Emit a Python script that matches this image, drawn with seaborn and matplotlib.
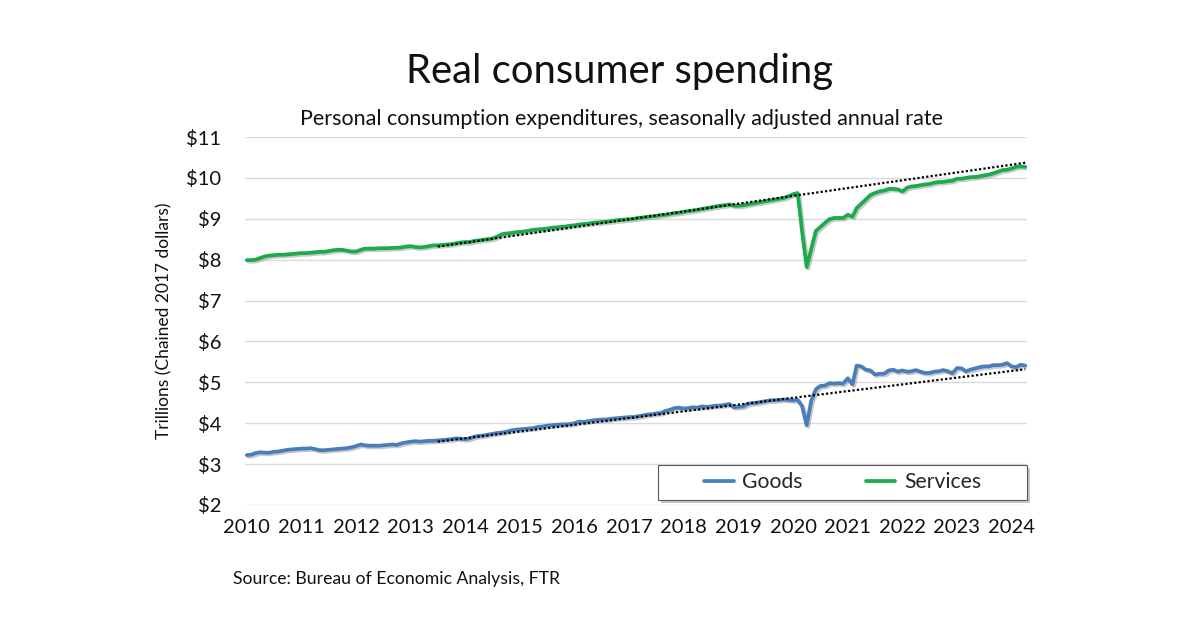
import matplotlib
matplotlib.use("Agg")
import matplotlib.pyplot as plt
import matplotlib.patheffects as pe
from matplotlib.patches import Rectangle
from matplotlib.lines import Line2D
import numpy as np
import pandas as pd
import seaborn as sns

# ---------------- data (trillions, chained 2017 dollars, monthly from Jan 2010) -------------
goods = [
    3.22, 3.23, 3.27, 3.29, 3.28, 3.28, 3.30, 3.31, 3.33, 3.35, 3.36, 3.37,  # 2010
    3.38, 3.38, 3.39, 3.37, 3.34, 3.34, 3.35, 3.36, 3.37, 3.38, 3.39, 3.41,  # 2011
    3.44, 3.48, 3.46, 3.45, 3.45, 3.45, 3.46, 3.47, 3.48, 3.47, 3.51, 3.53,  # 2012
    3.55, 3.56, 3.55, 3.56, 3.57, 3.57, 3.58, 3.59, 3.60, 3.61, 3.63, 3.62,  # 2013
    3.61, 3.63, 3.67, 3.69, 3.70, 3.72, 3.74, 3.76, 3.77, 3.79, 3.82, 3.84,  # 2014
    3.85, 3.86, 3.87, 3.88, 3.91, 3.92, 3.94, 3.95, 3.96, 3.97, 3.97, 3.98,  # 2015
    4.00, 4.04, 4.03, 4.05, 4.07, 4.08, 4.09, 4.09, 4.11, 4.12, 4.13, 4.14,  # 2016
    4.15, 4.15, 4.17, 4.19, 4.21, 4.22, 4.24, 4.25, 4.30, 4.33, 4.37, 4.38,  # 2017
    4.36, 4.37, 4.39, 4.38, 4.41, 4.40, 4.41, 4.43, 4.43, 4.45, 4.47, 4.39,  # 2018
    4.40, 4.41, 4.47, 4.49, 4.50, 4.52, 4.54, 4.56, 4.56, 4.57, 4.58, 4.57,  # 2019
    4.56, 4.57, 4.42, 3.95, 4.54, 4.83, 4.91, 4.92, 4.98, 4.97, 4.98, 4.97,  # 2020
    5.10, 4.95, 5.41, 5.39, 5.31, 5.29, 5.19, 5.21, 5.21, 5.29, 5.31, 5.26,  # 2021
    5.29, 5.26, 5.27, 5.30, 5.26, 5.23, 5.23, 5.26, 5.27, 5.30, 5.27, 5.22,  # 2022
    5.35, 5.34, 5.27, 5.31, 5.34, 5.37, 5.39, 5.39, 5.42, 5.42, 5.43, 5.47,  # 2023
    5.39, 5.37, 5.43, 5.41,                                                  # 2024
]

services = [
    7.99, 7.99, 8.00, 8.04, 8.08, 8.10, 8.11, 8.12, 8.12, 8.13, 8.14, 8.15,  # 2010
    8.16, 8.16, 8.17, 8.18, 8.19, 8.19, 8.21, 8.23, 8.24, 8.24, 8.22, 8.20,  # 2011
    8.20, 8.24, 8.27, 8.27, 8.27, 8.28, 8.28, 8.28, 8.29, 8.29, 8.30, 8.32,  # 2012
    8.33, 8.31, 8.30, 8.31, 8.33, 8.35, 8.35, 8.36, 8.37, 8.38, 8.40, 8.42,  # 2013
    8.43, 8.43, 8.46, 8.47, 8.49, 8.50, 8.52, 8.56, 8.62, 8.64, 8.65, 8.67,  # 2014
    8.68, 8.69, 8.71, 8.73, 8.74, 8.75, 8.76, 8.78, 8.79, 8.80, 8.81, 8.83,  # 2015
    8.84, 8.86, 8.87, 8.88, 8.90, 8.91, 8.92, 8.93, 8.94, 8.96, 8.97, 8.98,  # 2016
    8.99, 9.00, 9.02, 9.03, 9.05, 9.06, 9.07, 9.09, 9.10, 9.12, 9.14, 9.15,  # 2017
    9.17, 9.19, 9.20, 9.22, 9.24, 9.26, 9.28, 9.30, 9.32, 9.33, 9.35, 9.32,  # 2018
    9.32, 9.33, 9.35, 9.37, 9.39, 9.41, 9.43, 9.45, 9.47, 9.49, 9.51, 9.55,  # 2019
    9.60, 9.63, 8.70, 7.82, 8.25, 8.70, 8.80, 8.90, 8.99, 9.02, 9.02, 9.02,  # 2020
    9.10, 9.05, 9.26, 9.37, 9.47, 9.58, 9.63, 9.67, 9.69, 9.73, 9.73, 9.72,  # 2021
    9.67, 9.76, 9.79, 9.80, 9.82, 9.84, 9.85, 9.88, 9.90, 9.90, 9.92, 9.93,  # 2022
    9.98, 9.98, 10.00, 10.02, 10.02, 10.04, 10.06, 10.08, 10.11, 10.15, 10.19, 10.20,  # 2023
    10.23, 10.27, 10.28, 10.27,                                              # 2024
]

start_month = "2010-01-01"

# pre-pandemic trend lines (start / end)
trend_dates = ["2013-07-01", "2024-04-01"]
goods_trend = [3.55, 5.32]
services_trend = [8.32, 10.37]

year_labels = [str(y) for y in range(2010, 2025)]
y_ticks = [2, 3, 4, 5, 6, 7, 8, 9, 10, 11]
y_tick_labels = ["$" + str(v) for v in y_ticks]

title = "Real consumer spending"
subtitle = "Personal consumption expenditures, seasonally adjusted annual rate"
y_label = "Trillions (Chained 2017 dollars)"
source = "Source: Bureau of Economic Analysis, FTR"

# ---------------- build frames ----------------
dates = pd.date_range(start_month, periods=len(goods), freq="MS")
df = pd.concat([
    pd.DataFrame({"date": dates, "value": goods, "series": "Goods"}),
    pd.DataFrame({"date": dates, "value": services, "series": "Services"}),
], ignore_index=True)

tdates = pd.to_datetime(trend_dates)
tdf = pd.concat([
    pd.DataFrame({"date": tdates, "value": goods_trend, "series": "Goods trend"}),
    pd.DataFrame({"date": tdates, "value": services_trend, "series": "Services trend"}),
], ignore_index=True)

# ---------------- style ----------------
sns.set_style("white")
FONT = ["Lato", "DejaVu Sans"]
plt.rcParams["font.family"] = FONT

GOODS_C = "#4A7EBB"
SERV_C = "#1AAB4B"
palette = {"Goods": GOODS_C, "Services": SERV_C}

fig = plt.figure(figsize=(12, 6.28), dpi=100)
fig.patch.set_facecolor("white")
ax = fig.add_axes([245 / 1200, 1 - 505 / 628, (1027 - 245) / 1200, (505 - 137) / 628])

shadow = [pe.SimpleLineShadow(offset=(1.2, -1.2), shadow_color="#888888", alpha=0.45),
          pe.Normal()]

sns.lineplot(data=df, x="date", y="value", hue="series", palette=palette,
             linewidth=2.7, ax=ax, legend=False, zorder=3, path_effects=shadow)

sns.lineplot(data=tdf, x="date", y="value", units="series", estimator=None,
             color="black", linewidth=1.6, linestyle=(0, (1, 1)), ax=ax,
             legend=False, zorder=4)

# axes
ax.set_ylim(2, 11)
ax.set_xlim(dates[0] - pd.Timedelta(days=12), dates[-1] + pd.Timedelta(days=12))
ax.set_yticks(y_ticks)
ax.set_yticklabels(y_tick_labels)
year_ticks = pd.to_datetime([y + "-01-01" for y in year_labels])
ax.set_xticks(year_ticks)
ax.set_xticklabels(year_labels)
ax.tick_params(axis="both", length=0, labelsize=14.5, colors="#111111")
ax.tick_params(axis="y", pad=17)
ax.tick_params(axis="x", pad=10)
ax.grid(axis="y", color="#DADADA", linewidth=1.0, zorder=0)
ax.grid(axis="x", visible=False)
for s in ax.spines.values():
    s.set_visible(False)
ax.set_xlabel("")
ax.set_ylabel(y_label, fontsize=12.5, color="#111111", labelpad=10)

# legend box with shadow
bx0 = (658 - 245) / 782
bw = (1027 - 658) / 782
by0 = (505 - 500) / 368
bh = (500 - 465) / 368
ax.add_patch(Rectangle((bx0 + 0.004, by0 - 0.008), bw, bh, transform=ax.transAxes,
                       facecolor="#A0A0A0", edgecolor="none", alpha=0.6,
                       zorder=5, clip_on=False))
ax.add_patch(Rectangle((bx0, by0), bw, bh, transform=ax.transAxes,
                       facecolor="white", edgecolor="#555555", linewidth=0.8,
                       zorder=6, clip_on=False))
handles = [Line2D([], [], color=GOODS_C, linewidth=2.7),
           Line2D([], [], color=SERV_C, linewidth=2.7)]
leg = ax.legend(handles, ["Goods", "Services"], ncol=2, frameon=False,
                loc="center", bbox_to_anchor=(bx0 + bw / 2, by0 + bh / 2),
                bbox_transform=ax.transAxes, fontsize=15.2, handlelength=1.4,
                handletextpad=0.4, columnspacing=3.0)
leg.set_zorder(7)

# texts
fig.text(620 / 1200, 1 - 72 / 628, title, ha="center", va="center",
         fontsize=28.8, color="#111111")
fig.text(621 / 1200, 1 - 119 / 628, subtitle, ha="center", va="center",
         fontsize=15.5, color="#111111")
fig.text(233 / 1200, 1 - 579 / 628, source, ha="left", va="center",
         fontsize=12.7, color="#111111")

fig.savefig("out.png", dpi=100, facecolor="white")
